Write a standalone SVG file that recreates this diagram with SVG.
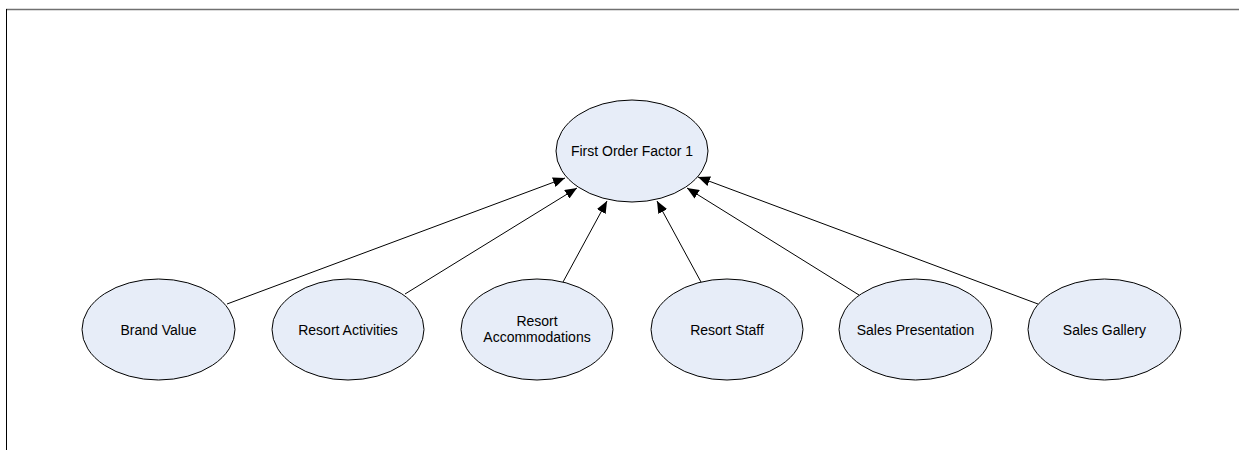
<svg xmlns="http://www.w3.org/2000/svg" width="1239" height="450" viewBox="0 0 1239 450">
<style>
.node ellipse{fill:#e7edf8;stroke:#000;stroke-width:1}
.node text{font-family:"Liberation Sans",Arial,sans-serif;font-size:14px;fill:#000;text-anchor:middle}
.edge{stroke:#000;stroke-width:1;fill:none;marker-end:url(#arr)}
</style>
<defs>
<marker id="arr" viewBox="0 0 12 10" refX="12" refY="5" markerWidth="12" markerHeight="10" markerUnits="userSpaceOnUse" orient="auto">
<path d="M0,0 L12,5 L0,10 z" fill="#000"/>
</marker>
</defs>
<rect width="1239" height="450" fill="#fff"/>
<line x1="6" y1="9.5" x2="1239" y2="9.5" stroke="#707070" stroke-width="1.6"/>
<line x1="6.5" y1="9" x2="6.5" y2="450" stroke="#000" stroke-width="1"/>
<g id="connectors">
<line class="edge" x1="227" y1="304" x2="565" y2="178"/>
<line class="edge" x1="405" y1="294" x2="577" y2="188"/>
<line class="edge" x1="563" y1="282" x2="607" y2="201"/>
<line class="edge" x1="701" y1="282" x2="657" y2="201"/>
<line class="edge" x1="859" y1="295" x2="687" y2="188"/>
<line class="edge" x1="1038" y1="304" x2="698" y2="177"/>
</g>
<g id="n0" class="node"><ellipse cx="632" cy="151" rx="76" ry="51"/><text x="632" y="156">First Order Factor 1</text></g>
<g id="n1" class="node"><ellipse cx="158.5" cy="329.5" rx="76.5" ry="50.5"/><text x="158.5" y="335">Brand Value</text></g>
<g id="n2" class="node"><ellipse cx="348" cy="329.5" rx="76" ry="50.5"/><text x="348" y="335">Resort Activities</text></g>
<g id="n3" class="node"><ellipse cx="537" cy="329.5" rx="76" ry="50.5"/><text x="537" y="326">Resort</text><text x="537" y="342">Accommodations</text></g>
<g id="n4" class="node"><ellipse cx="727" cy="329.5" rx="76" ry="50.5"/><text x="727" y="335">Resort Staff</text></g>
<g id="n5" class="node"><ellipse cx="915.5" cy="329.5" rx="76.5" ry="50.5"/><text x="915.5" y="335">Sales Presentation</text></g>
<g id="n6" class="node"><ellipse cx="1104.5" cy="329.5" rx="76.5" ry="50.5"/><text x="1104.5" y="335">Sales Gallery</text></g>
</svg>
